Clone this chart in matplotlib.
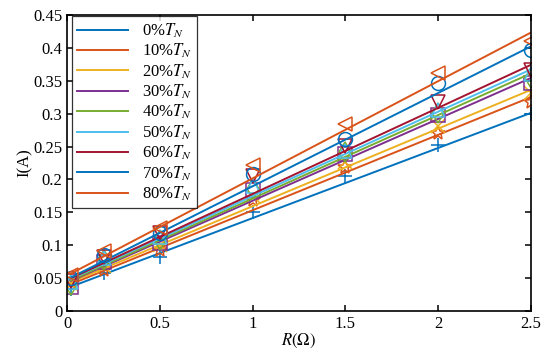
import numpy as np
import matplotlib
matplotlib.use("Agg")
import matplotlib.pyplot as plt

plt.rcParams['font.family'] = ['Liberation Serif', 'DejaVu Serif']
plt.rcParams['mathtext.fontset'] = 'stix'

# measured points
R = [0.02, 0.2, 0.5, 1.0, 1.5, 2.0, 2.5]
labels = ['0%$T_N$', '10%$T_N$', '20%$T_N$', '30%$T_N$', '40%$T_N$',
          '50%$T_N$', '60%$T_N$', '70%$T_N$', '80%$T_N$']
I_meas = [
    [0.033, 0.058, 0.083, 0.151, 0.205, 0.252, 0.299],
    [0.045, 0.063, 0.093, 0.169, 0.219, 0.271, 0.318],
    [0.042, 0.068, 0.100, 0.175, 0.226, 0.281, 0.331],
    [0.036, 0.074, 0.103, 0.184, 0.239, 0.298, 0.346],
    [0.040, 0.078, 0.108, 0.186, 0.241, 0.301, 0.354],
    [0.045, 0.080, 0.112, 0.190, 0.244, 0.305, 0.360],
    [0.046, 0.082, 0.118, 0.206, 0.251, 0.317, 0.367],
    [0.050, 0.085, 0.118, 0.208, 0.262, 0.346, 0.396],
    [0.055, 0.091, 0.126, 0.222, 0.284, 0.362, 0.411],
]
# fitted lines: value at R=0.02 and at R=2.5
R_fit = [0.02, 2.5]
I_fit = [
    [0.037, 0.301],
    [0.041, 0.325],
    [0.044, 0.336],
    [0.046, 0.354],
    [0.047, 0.361],
    [0.049, 0.367],
    [0.050, 0.374],
    [0.051, 0.402],
    [0.057, 0.423],
]
markers = ['+', '*', 'x', 's', 'd', '^', 'v', 'o', '<']
colors = ['#0072BD', '#D95319', '#EDB120', '#7E2F8E', '#77AC30',
          '#4DBEEE', '#A2142F', '#0072BD', '#D95319']

fig = plt.figure(figsize=(5.5, 3.54), dpi=100)
ax = fig.add_axes([0.122, 0.121, 0.843, 0.837])

for k in range(len(labels)):
    ax.plot(R_fit, I_fit[k], color=colors[k], lw=1.4, label=labels[k])
    ax.plot(R, I_meas[k], linestyle='none', marker=markers[k], color=colors[k],
            markerfacecolor='none', markersize=10, markeredgewidth=1.1)

ax.set_xlim(0, 2.5)
ax.set_ylim(0, 0.45)
ax.set_xticks([0, 0.5, 1, 1.5, 2, 2.5])
ax.set_xticklabels(['0', '0.5', '1', '1.5', '2', '2.5'])
ax.set_yticks(np.arange(0, 0.451, 0.05))
ax.set_yticklabels(['0', '0.05', '0.1', '0.15', '0.2', '0.25', '0.3', '0.35', '0.4', '0.45'])
ax.tick_params(direction='in', top=True, right=True, labelsize=12, length=4, width=1.1)
for s in ax.spines.values():
    s.set_linewidth(1.2)
ax.set_xlabel(r'$R(\Omega)$', fontsize=12, labelpad=0)
ax.set_ylabel('I(A)', fontsize=12, labelpad=0)

leg = ax.legend(loc='upper left', fontsize=12, handlelength=3.1, labelspacing=0.12,
                borderpad=0.3, fancybox=False, edgecolor='black',
                bbox_to_anchor=(0.01, 0.995), borderaxespad=0)
leg.get_frame().set_linewidth(0.9)

fig.savefig('out.png', dpi=100)
